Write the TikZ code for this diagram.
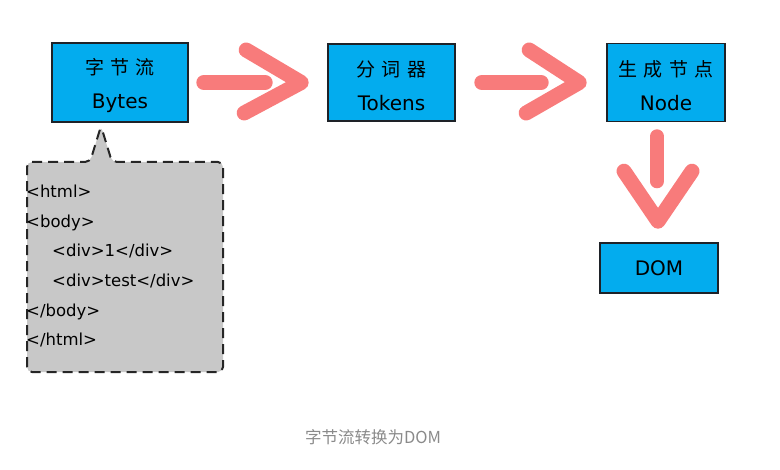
\documentclass[tikz,border=0pt]{standalone}
\usepackage{fontspec}
\setmainfont{Noto Sans CJK SC}
\newfontfamily\latinfont{DejaVu Sans}
\usetikzlibrary{calc}
\definecolor{boxblue}{HTML}{03ACEE}
\definecolor{brushred}{HTML}{F87B7B}
\definecolor{calloutgray}{HTML}{C8C8C8}
\definecolor{captiongray}{HTML}{8A8A8A}
\definecolor{edge}{HTML}{1E2228}
\newcommand{\lat}[1]{{\latinfont\fontsize{20bp}{22bp}\selectfont #1}}
\tikzset{
  stagebox/.style={draw=edge, line width=1.6bp, fill=boxblue, inner sep=0pt, align=center,
    font=\fontsize{19bp}{35bp}\selectfont},
  twoline/.style={stagebox, label={[inner sep=0pt, align=center, font=\fontsize{19bp}{34bp}\selectfont, yshift=-3bp]center:#1}},
  brush/.style={draw=brushred, line width=15bp, line cap=round, line join=round},
  callout/.style={draw=black!85, fill=calloutgray, line width=2bp, dash pattern=on 10bp off 6bp, rounded corners=5bp},
}
\begin{document}
\begin{tikzpicture}[x=1bp,y=-1bp]
\useasboundingbox (0,0) rectangle (780,470);
% boxes
\node[twoline={字\,\,节\,\,流\\\lat{Bytes}}, minimum width=136bp, minimum height=79bp] (b1) at (120,82.5) {};
\node[twoline={分\,\,词\,\,器\\\lat{Tokens}}, minimum width=127bp, minimum height=77bp] (b2) at (391.5,82.5) {};
\node[twoline={生\,\,成\,\,节\,\,点\\\lat{Node}}, minimum width=118bp, minimum height=78bp] (b3) at (666,82.5) {};
\node[stagebox, minimum width=118bp, minimum height=50bp, font=\latinfont\fontsize{20bp}{22bp}\selectfont] (dom) at (659,268) {DOM};
% callout
\draw[callout] (27,162) -- (90,162) -- (101,126) -- (112,162) -- (223,162) -- (223,372) -- (27,372) -- cycle;
\coordinate (tip) at (101,126);
\node[anchor=north west, inner sep=0pt, align=left, font=\latinfont\fontsize{16.5bp}{29.6bp}\selectfont] (code) at (26,185)
  {<html>\\<body>\\\hspace*{26bp}<div>1</div>\\\hspace*{26bp}<div>test</div>\\</body>\\</html>};
% arrow 1
\draw[brush] ($(b1.east)+(15,0)$) -- ($(b2.west)+(-62,0)$);
\draw[brush] ($(b2.west)+(-81,-32.5)$) -- ($(b2.west)+(-26,0)$) -- ($(b2.west)+(-83,30.5)$);
% arrow 2
\draw[brush] ($(b2.east)+(26,0)$) -- ($(b3.west)+(-65,0)$);
\draw[brush] ($(b3.west)+(-77,-32.5)$) -- ($(b3.west)+(-27,0)$) -- ($(b3.west)+(-80,30.5)$);
% arrow down
\draw[brush, line width=14bp] ($(b3.south)+(-9,14)$) -- ($(b3.south)+(-9,59)$);
\draw[brush] ($(dom.north)+(-35,-71)$) -- ($(dom.north)+(-1,-21)$) -- ($(dom.north)+(33,-71)$);
% caption
\node[text=captiongray, font=\fontsize{16.5bp}{18bp}\selectfont] (cap) at (373,437) {字节流转换为DOM};
\end{tikzpicture}
\end{document}
